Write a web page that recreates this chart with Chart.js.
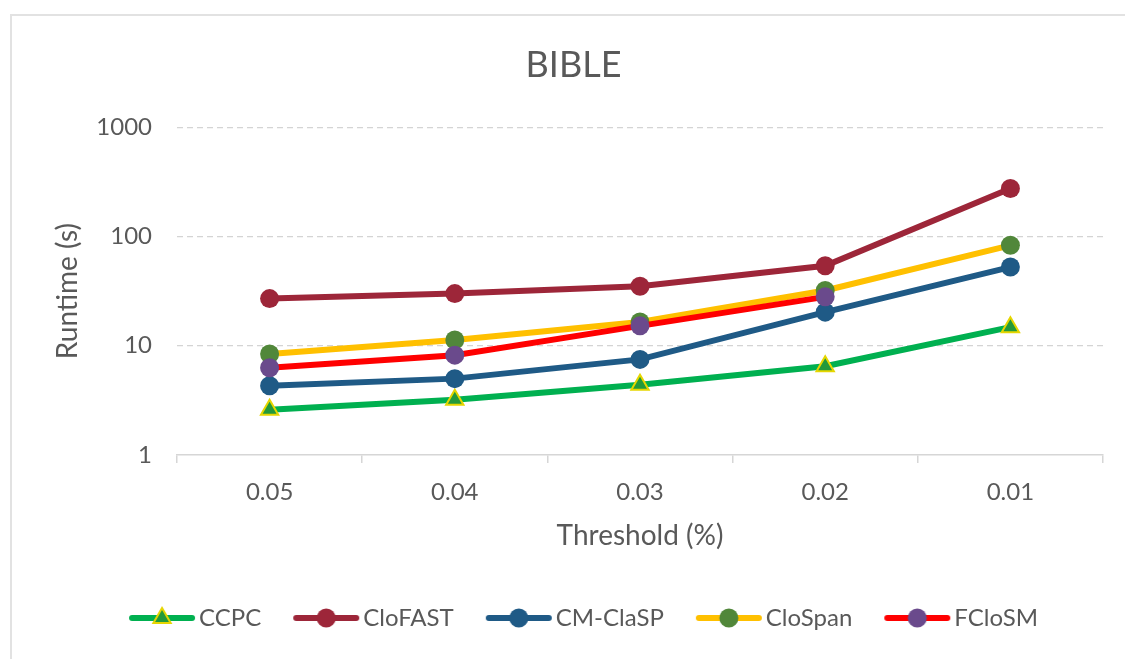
<!DOCTYPE html>
<html>
<head>
<meta charset="utf-8">
<script src="https://cdn.jsdelivr.net/npm/chart.js@4.4.1/dist/chart.umd.min.js"></script>
<style>
  html, body { margin: 0; padding: 0; background: #ffffff; overflow: hidden; }
  #frame {
    position: absolute; left: 10px; top: 14px; width: 1200px; height: 700px;
    border-left: 2px solid #e2e2e2; border-top: 2px solid #e2e2e2; box-sizing: border-box;
  }
  #wrap { position: absolute; left: 0; top: 0; width: 1125px; height: 659px; }
</style>
</head>
<body>
<div id="frame"></div>
<div id="wrap"><canvas id="chart" width="1125" height="659"></canvas></div>
<script>
// Support thresholds (x axis)
const thresholds = ['0.05', '0.04', '0.03', '0.02', '0.01'];

// Runtime in seconds for each algorithm
const ccpc    = [2.6, 3.2, 4.4, 6.5, 14.8];
const cloFast = [27, 30, 35, 54, 275];
const cmClasp = [4.3, 5.0, 7.5, 20.3, 52.5];
const cloSpan = [8.4, 11.3, 16.5, 32, 83];
const fClosm  = [6.3, 8.2, 15.2, 28, null];

// Log-axis tick values
const yTicks = [1, 10, 100, 1000];

const seriesNames = ['CCPC', 'CloFAST', 'CM-ClaSP', 'CloSpan', 'FCloSM'];
const seriesData = [ccpc, cloFast, cmClasp, cloSpan, fClosm];

const styles = [
  { line: '#00b050', mark: '#23993b', edge: '#e6d600', shape: 'triangle', r: 10, bw: 2 },
  { line: '#9d2639', mark: '#9d2639', edge: '#9d2639', shape: 'circle', r: 9.5, bw: 0 },
  { line: '#1f5a86', mark: '#1f5a86', edge: '#1f5a86', shape: 'circle', r: 9.5, bw: 0 },
  { line: '#ffc000', mark: '#51873a', edge: '#51873a', shape: 'circle', r: 9.5, bw: 0 },
  { line: '#ff0000', mark: '#6a4a8c', edge: '#6a4a8c', shape: 'circle', r: 9.5, bw: 0 }
];

const TEXT = '#595959';
const FONT = 'Lato, "Open Sans", sans-serif';

// Legend geometry: a short line with a marker in the middle, followed by the label
const LEG_FS = 24, LEG_LINE = 66, LEG_SHIFT = 20, LEG_GAP = 4;
const LEG_BOX = LEG_SHIFT + LEG_LINE + LEG_GAP - LEG_FS / 2;
const LEG_IMG_W = 2 * (LEG_SHIFT + LEG_LINE - LEG_BOX / 2) + 2, LEG_IMG_H = 26;

function legendSwatch(st) {
  const c = document.createElement('canvas');
  c.width = LEG_IMG_W; c.height = LEG_IMG_H;
  const g = c.getContext('2d');
  const x0 = LEG_SHIFT - (LEG_BOX / 2 - LEG_IMG_W / 2);
  const cy = LEG_IMG_H / 2;
  g.strokeStyle = st.line; g.lineWidth = 6; g.lineCap = 'round';
  g.beginPath(); g.moveTo(x0 + 3, cy); g.lineTo(x0 + LEG_LINE - 3, cy); g.stroke();
  const cx = x0 + LEG_LINE / 2;
  g.fillStyle = st.mark;
  if (st.shape === 'triangle') {
    const r = st.r;
    g.beginPath();
    g.moveTo(cx, cy - r);
    g.lineTo(cx + r * Math.sin(Math.PI / 3 * 2), cy + r * 0.5);
    g.lineTo(cx - r * Math.sin(Math.PI / 3 * 2), cy + r * 0.5);
    g.closePath(); g.fill();
    g.strokeStyle = st.edge; g.lineWidth = st.bw; g.lineCap = 'butt'; g.stroke();
  } else {
    g.beginPath(); g.arc(cx, cy, st.r, 0, Math.PI * 2); g.fill();
  }
  return c;
}

const swatches = styles.map(legendSwatch);

const datasets = seriesNames.map((name, i) => ({
  label: name,
  data: seriesData[i],
  borderColor: styles[i].line,
  backgroundColor: styles[i].mark,
  borderWidth: 6,
  tension: 0,
  fill: false,
  pointStyle: styles[i].shape,
  pointRadius: styles[i].r,
  pointHoverRadius: styles[i].r,
  pointBackgroundColor: styles[i].mark,
  pointBorderColor: styles[i].edge,
  pointBorderWidth: styles[i].bw,
  order: seriesNames.length - i
}));

new Chart(document.getElementById('chart'), {
  type: 'line',
  data: { labels: thresholds, datasets: datasets },
  options: {
    responsive: false,
    animation: false,
    devicePixelRatio: 1,
    layout: { padding: { left: 22, right: 0, top: 0, bottom: 19 } },
    plugins: {
      tooltip: { enabled: false },
      title: {
        display: true,
        text: 'BIBLE',
        color: TEXT,
        font: { family: FONT, size: 36, weight: 'normal' },
        padding: { top: 44, bottom: 40 }
      },
      legend: {
        position: 'bottom',
        align: 'center',
        labels: {
          usePointStyle: true,
          pointStyleWidth: LEG_BOX,
          boxHeight: LEG_FS,
          padding: 12,
          color: TEXT,
          font: { family: FONT, size: LEG_FS },
          generateLabels: () => seriesNames.map((name, i) => ({
            text: name,
            pointStyle: swatches[i],
            datasetIndex: i,
            hidden: false,
            fillStyle: styles[i].mark,
            strokeStyle: styles[i].mark,
            lineWidth: 0,
            fontColor: TEXT
          }))
        }
      }
    },
    scales: {
      x: {
        type: 'category',
        offset: true,
        afterFit: (s) => { s.height = 139; },
        grid: {
          offset: true,
          drawOnChartArea: false,
          drawTicks: true,
          tickLength: 8,
          color: '#d6d6d6',
          lineWidth: 1.5
        },
        border: { display: true, color: '#d6d6d6', width: 1.5 },
        ticks: { color: TEXT, font: { family: FONT, size: 24 }, padding: 15 },
        title: {
          display: true,
          text: 'Threshold (%)',
          color: TEXT,
          font: { family: FONT, size: 28 },
          padding: { top: 0, bottom: 41 }
        }
      },
      y: {
        type: 'logarithmic',
        min: 1,
        max: 1000,
        position: 'left',
        afterFit: (s) => { s.width = 155; },
        afterBuildTicks: (s) => { s.ticks = yTicks.map(v => ({ value: v })); },
        grid: {
          drawTicks: false,
          color: (ctx) => (ctx.tick && ctx.tick.value === 1) ? 'rgba(0,0,0,0)' : '#d4d4d4',
          lineWidth: 1.3
        },
        border: { display: false, dash: [6, 4] },
        ticks: {
          color: TEXT,
          font: { family: FONT, size: 24 },
          padding: 25,
          callback: (v) => String(v)
        },
        title: {
          display: true,
          text: 'Runtime (s)',
          color: TEXT,
          font: { family: FONT, size: 28 },
          padding: { top: 29, bottom: 0 }
        }
      },
      spacer: {
        type: 'linear',
        position: 'right',
        display: true,
        afterFit: (s) => { s.width = 22; },
        grid: { display: false, drawTicks: false },
        border: { display: false },
        ticks: { display: false }
      }
    }
  }
});
</script>
</body>
</html>
